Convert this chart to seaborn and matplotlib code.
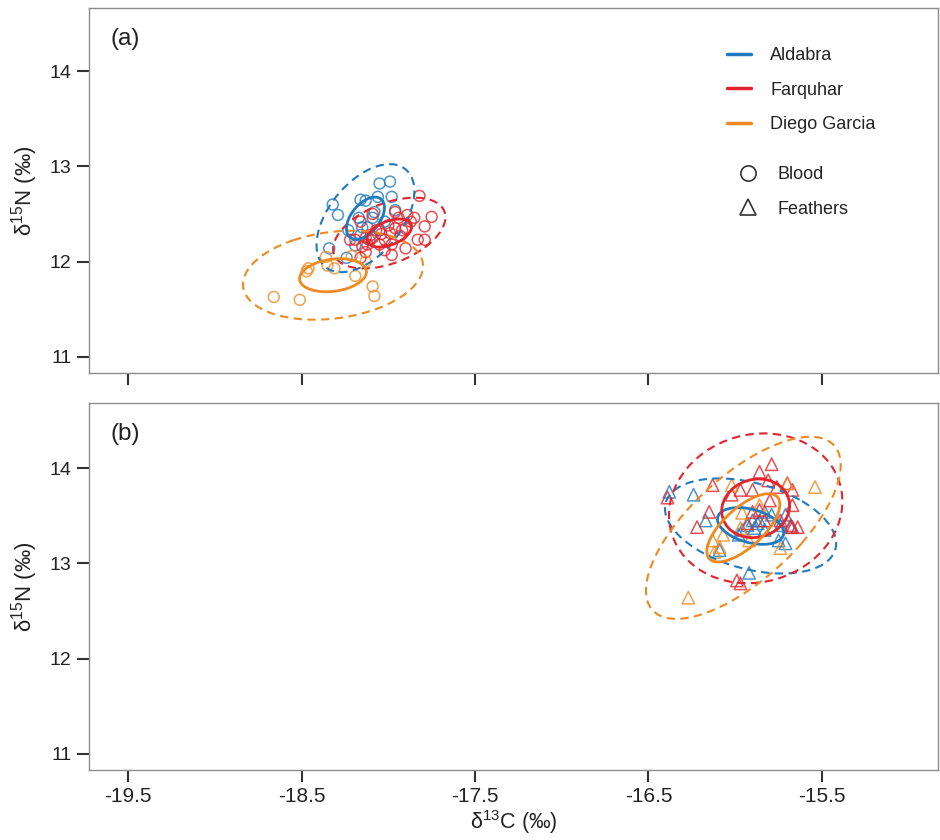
import numpy as np
import pandas as pd
import matplotlib
matplotlib.use("Agg")
import matplotlib.pyplot as plt
import seaborn as sns
from matplotlib.patches import Ellipse
from matplotlib.lines import Line2D

# ---------------- data ----------------
sites = ["Aldabra", "Farquhar", "Diego Garcia"]
site_colors = ["#1f7bbf", "#e3242b", "#ef8a22"]
tissues = ["Blood", "Feathers"]
x_ticks = [-19.5, -18.5, -17.5, -16.5, -15.5]
y_ticks = [11, 12, 13, 14]

# (a) blood
ald_blood_c = [-18.05, -17.99, -18.32, -18.29, -18.16, -18.13, -18.06, -18.08, -18.34, -18.24, -18.23,
               -18.17, -18.09, -18.12, -18.15, -18.16, -17.98, -18.02, -17.96, -18.11, -18.05, -18.19]
ald_blood_n = [12.82, 12.84, 12.60, 12.49, 12.65, 12.64, 12.68, 12.52, 12.14, 12.04, 12.33,
               12.46, 12.46, 12.36, 12.36, 12.28, 12.68, 12.42, 12.54, 12.23, 12.33, 12.17]
far_blood_c = [-17.82, -17.75, -17.79, -17.89, -17.87, -17.92, -17.94, -17.90, -17.99, -18.02, -18.05,
               -18.07, -18.09, -18.12, -18.15, -18.19, -18.13, -18.02, -17.98, -17.93, -17.90, -17.83,
               -18.00, -18.09, -18.10, -17.96, -18.22, -18.16, -17.96, -17.85, -18.04, -18.13,
               -17.98, -17.79, -18.16]
far_blood_n = [12.69, 12.47, 12.37, 12.49, 12.42, 12.33, 12.46, 12.14, 12.30, 12.23, 12.18,
               12.33, 12.25, 12.18, 12.16, 12.23, 12.10, 12.12, 12.18, 12.27, 12.35, 12.23,
               12.38, 12.50, 12.28, 12.35, 12.23, 12.04, 12.52, 12.46, 12.29, 12.25,
               12.07, 12.23, 12.42]
dg_blood_c = [-18.66, -18.51, -18.47, -18.46, -18.36, -18.35, -18.31, -18.19, -18.09, -18.08, -18.21, -18.13]
dg_blood_n = [11.63, 11.60, 11.90, 11.93, 12.05, 11.96, 11.93, 11.85, 11.74, 11.64, 12.06, 12.00]

# (b) feathers
ald_feath_c = [-16.38, -16.24, -16.17, -16.09, -15.92, -15.83, -15.87, -15.90, -15.75, -15.71, -15.96,
               -15.98, -15.68, -15.79, -15.71, -15.83, -15.74, -15.89, -15.86, -15.93]
ald_feath_n = [13.75, 13.72, 13.45, 13.14, 12.90, 13.54, 13.42, 13.45, 13.24, 13.21, 13.35,
               13.30, 13.38, 13.51, 13.51, 13.35, 13.40, 13.37, 13.45, 13.40]
far_feath_c = [-16.39, -16.13, -15.79, -15.86, -15.70, -16.02, -15.97, -15.90, -15.81, -15.76, -15.67,
               -15.67, -16.15, -16.22, -15.93, -15.67, -15.64, -15.97, -15.99, -15.74, -15.68, -15.86, -15.80,
               -15.90, -15.83]
far_feath_n = [13.69, 13.82, 14.04, 13.96, 13.84, 13.72, 13.77, 13.77, 13.87, 13.80, 13.77,
               13.61, 13.54, 13.38, 13.42, 13.38, 13.38, 12.79, 12.82, 13.45, 13.40, 13.56, 13.66,
               13.54, 13.45]
dg_feath_c = [-16.27, -16.13, -16.12, -16.07, -16.09, -16.02, -15.97, -15.96, -15.70, -15.74, -15.54,
              -15.86, -15.92]
dg_feath_n = [12.64, 13.24, 13.12, 13.30, 13.17, 13.82, 13.37, 13.53, 13.84, 13.16, 13.80,
              13.61, 13.24]


def frame(tissue, groups):
    rows = []
    for site, (c, n) in zip(sites, groups):
        for ci, ni in zip(c, n):
            rows.append({"d13C": ci, "d15N": ni, "site": site, "tissue": tissue})
    return pd.DataFrame(rows)


df_blood = frame("Blood", [(ald_blood_c, ald_blood_n), (far_blood_c, far_blood_n), (dg_blood_c, dg_blood_n)])
df_feath = frame("Feathers", [(ald_feath_c, ald_feath_n), (far_feath_c, far_feath_n), (dg_feath_c, dg_feath_n)])

# ---------------- style ----------------
sns.set_theme(style="white")
plt.rcParams["font.family"] = ["Liberation Sans", "DejaVu Sans"]
plt.rcParams["mathtext.fontset"] = "custom"
plt.rcParams["mathtext.rm"] = "Liberation Sans"
plt.rcParams["mathtext.it"] = "Liberation Sans"
plt.rcParams["mathtext.bf"] = "Liberation Sans"

palette = dict(zip(sites, site_colors))
text_col = "#222222"
tick_col = "#333333"

fig = plt.figure(figsize=(9.4, 8.4), dpi=100)
ax_a = fig.add_axes([89 / 940, 1 - 373 / 840, 849 / 940, 365 / 840])
ax_b = fig.add_axes([89 / 940, 1 - 770 / 840, 849 / 940, 367 / 840])


def ellipse_params(x, y, k):
    cov = np.cov(np.vstack([x, y]))
    vals, vecs = np.linalg.eigh(cov)
    order = vals.argsort()[::-1]
    vals, vecs = vals[order], vecs[:, order]
    ang = np.degrees(np.arctan2(vecs[1, 0], vecs[0, 0]))
    return (np.mean(x), np.mean(y)), 2 * k * np.sqrt(vals[0]), 2 * k * np.sqrt(vals[1]), ang


def f2_quantile(p, d):
    # quantile of the F(2, d) distribution
    return (d / 2.0) * ((1 - p) ** (-2.0 / d) - 1)


def draw_panel(ax, df, marker, size):
    sns.scatterplot(data=df, x="d13C", y="d15N", hue="site", hue_order=sites, palette=palette,
                    marker=marker, s=size, linewidth=1.1, alpha=0.8, legend=False, ax=ax)
    coll = ax.collections[-1]
    fc = coll.get_facecolors()
    coll.set_edgecolors(fc)
    coll.set_facecolors("none")
    for site in sites:
        g = df[df["site"] == site]
        n = len(g)
        k95 = np.sqrt(2 * f2_quantile(0.95, n - 1))
        ctr, w, h, ang = ellipse_params(g["d13C"].values, g["d15N"].values, k95)
        ax.add_patch(Ellipse(ctr, w, h, angle=ang, fill=False, ec=palette[site], lw=1.5,
                             ls=(0, (4, 2.6)), zorder=3))
    for site in sites:
        g = df[df["site"] == site]
        n = len(g)
        ksea = np.sqrt((n - 1) / (n - 2))
        ctr, w, h, ang = ellipse_params(g["d13C"].values, g["d15N"].values, ksea)
        ax.add_patch(Ellipse(ctr, w, h, angle=ang, fill=False, ec=palette[site], lw=2.0, zorder=4))


draw_panel(ax_a, df_blood, "o", 62)
draw_panel(ax_b, df_feath, "^", 80)

for ax, ylim in [(ax_a, (10.832, 14.661)), (ax_b, (10.832, 14.682))]:
    ax.set_xlim(-19.725, -14.831)
    ax.set_ylim(*ylim)
    ax.set_xticks(x_ticks)
    ax.set_yticks(y_ticks)
    ax.set_xticklabels([f"{t:.1f}" for t in x_ticks])
    ax.set_yticklabels([str(t) for t in y_ticks])
    ax.tick_params(direction="out", length=8.5, width=1.5, color=tick_col,
                   labelcolor=text_col, pad=4, left=True, bottom=True)
    ax.tick_params(axis="y", labelsize=14)
    ax.tick_params(axis="x", labelsize=15)
    for sp in ax.spines.values():
        sp.set_color("#8c8c8c")
        sp.set_linewidth(1.0)
    ax.set_ylabel("δ$^{15}$N (‰)", fontsize=16, color=text_col, labelpad=7)
    ax.set_xlabel("")

ax_a.tick_params(labelbottom=False)
ax_b.set_xlabel("δ$^{13}$C (‰)", fontsize=15.5, color=text_col, labelpad=1.5)

ax_a.text(0.025, 0.915, "(a)", transform=ax_a.transAxes, fontsize=17.5, color=text_col, va="center")
ax_b.text(0.025, 0.915, "(b)", transform=ax_b.transAxes, fontsize=17.5, color=text_col, va="center")

# legends
site_handles = [Line2D([], [], color=c, lw=2.5) for c in site_colors]
leg1 = ax_a.legend(site_handles, sites, loc="upper left", bbox_to_anchor=(727 / 940, 1 - 47 / 840),
                   bbox_transform=fig.transFigure, frameon=False, fontsize=13, handlelength=1.35,
                   handletextpad=1.05, labelspacing=0.98, borderpad=0, borderaxespad=0)
for t in leg1.get_texts():
    t.set_color(text_col)
ax_a.add_artist(leg1)
tissue_handles = [Line2D([], [], ls="none", marker="o", ms=11, mfc="none", mec="#333333", mew=1.2),
                  Line2D([], [], ls="none", marker="^", ms=12, mfc="none", mec="#333333", mew=1.2)]
leg2 = ax_a.legend(tissue_handles, tissues, loc="upper left", bbox_to_anchor=(735 / 940, 1 - 166 / 840),
                   bbox_transform=fig.transFigure, frameon=False, fontsize=13, handlelength=1.45,
                   handletextpad=0.9, labelspacing=0.98, borderpad=0, borderaxespad=0)
for t in leg2.get_texts():
    t.set_color(text_col)

fig.savefig("out.png", dpi=100)
